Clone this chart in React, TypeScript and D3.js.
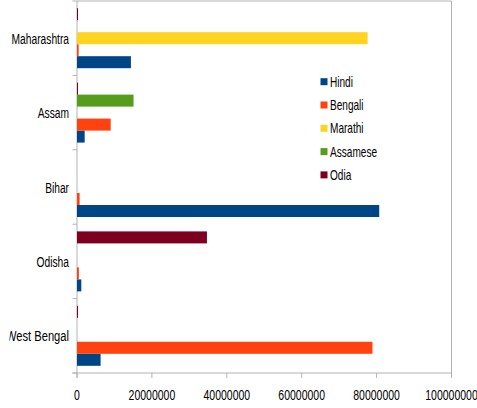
import React from "react";
import * as d3 from "d3";

const categories = ["Maharashtra", "Assam", "Bihar", "Odisha", "West Bengal"];
const seriesNames = ["Hindi", "Bengali", "Marathi", "Assamese", "Odia"];
const seriesColors = ["#004586", "#ff420e", "#ffd320", "#579d1c", "#7e0021"];
const hindi = [14400000, 2050000, 80700000, 1150000, 6300000];
const bengali = [450000, 9000000, 700000, 500000, 78900000];
const marathi = [77600000, 0, 0, 0, 0];
const assamese = [0, 15100000, 0, 0, 0];
const odia = [150000, 200000, 0, 34700000, 150000];
const xTicks = [0, 20000000, 40000000, 60000000, 80000000, 100000000];

const seriesValues = [hindi, bengali, marathi, assamese, odia];

const W = 477;
const H = 408;
const left = 77;
const right = 451.5;
const top = 1;
const bottom = 373;
const FONT = "'Liberation Sans', Arial, sans-serif";

export default function App() {
  const x = d3.scaleLinear().domain([0, 100000000]).range([left, right]);
  const y = d3.scaleBand<string>().domain(categories).range([top, bottom]).padding(0);
  const inner = d3
    .scaleBand<string>()
    .domain([...seriesNames].reverse())
    .range([0, y.bandwidth()])
    .paddingInner(0)
    .paddingOuter(0.6);

  const boundaries = categories.map((c) => y(c)!).concat([bottom]);

  return (
    <svg
      width={W}
      height={H}
      style={{ position: "absolute", left: 0, top: 0, background: "#fff" }}
    >
      <defs>
        <clipPath id="labelClip">
          <rect x={9.5} y={0} width={W} height={H} />
        </clipPath>
      </defs>
      <line x1={left} x2={right} y1={top} y2={top} stroke="#b3b3b3" />
      <line x1={right} x2={right} y1={top} y2={bottom + 5} stroke="#b3b3b3" />
      <line x1={left - 4.5} x2={right} y1={bottom} y2={bottom} stroke="#b3b3b3" />
      <line x1={left} x2={left} y1={top} y2={bottom + 5} stroke="#b3b3b3" />
      {boundaries.map((b, i) => (
        <line key={"yt" + i} x1={left - 4.5} x2={left} y1={b} y2={b} stroke="#b3b3b3" />
      ))}
      {xTicks.map((t, i) => (
        <line key={"xt" + i} x1={x(t)} x2={x(t)} y1={bottom} y2={bottom + 5} stroke="#b3b3b3" />
      ))}

      {categories.map((c, ci) =>
        seriesNames.map((s, si) => {
          const v = seriesValues[si][ci];
          if (!v) return null;
          const w = Math.max(x(v) - x(0), 1);
          return (
            <rect
              key={c + s}
              x={x(0)}
              y={y(c)! + inner(s)!}
              width={w}
              height={inner.bandwidth()}
              fill={seriesColors[si]}
            />
          );
        })
      )}

      <g clipPath="url(#labelClip)">
        {categories.map((c) => (
          <text
            key={"cl" + c}
            transform={`translate(${left - 8},${y(c)! + y.bandwidth() / 2 + 5.5}) scale(${c === "West Bengal" ? 0.72 : 0.66},1)`}
            textAnchor="end"
            fontFamily={FONT}
            fontSize={15.5}
            fill="#000"
          >
            {c}
          </text>
        ))}
      </g>

      {xTicks.map((t) => (
        <text
          key={"xl" + t}
          transform={`translate(${x(t)},${400}) scale(0.7,1)`}
          textAnchor="middle"
          fontFamily={FONT}
          fontSize={15}
          fill="#000"
        >
          {String(t)}
        </text>
      ))}

      {seriesNames.map((s, i) => {
        const cy = 81.7 + i * 23.3;
        return (
          <g key={"lg" + s}>
            <rect x={320.5} y={cy - 3.5} width={7} height={7} fill={seriesColors[i]} />
            <text
              transform={`translate(${330},${cy + 5}) scale(0.72,1)`}
              fontFamily={FONT}
              fontSize={14}
              fill="#000"
            >
              {s}
            </text>
          </g>
        );
      })}
    </svg>
  );
}
